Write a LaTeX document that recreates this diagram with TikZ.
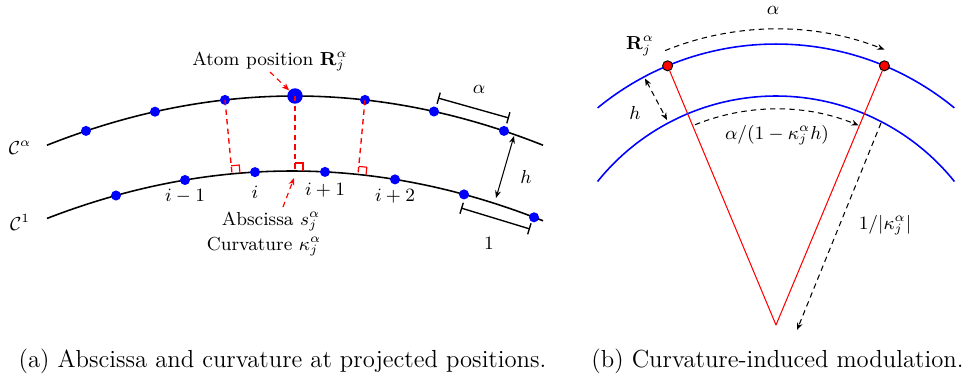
\documentclass[tikz,border=0pt]{standalone}
\usepackage{amsmath}
\usetikzlibrary{arrows.meta}
\begin{document}
\begin{tikzpicture}[x=0.478pt,y=-0.478pt,
  curve/.style={line width=0.75pt},
  bluecurve/.style={blue,line width=0.75pt},
  bdot/.style={circle,fill=blue,inner sep=0pt,minimum size=4.8pt},
  bigdot/.style={circle,fill=blue,inner sep=0pt,minimum size=7.4pt},
  rdot/.style={circle,fill=red,draw=black,line width=0.45pt,inner sep=0pt,minimum size=4.8pt},
  mydash/.style={dash pattern=on 2.6pt off 2pt},
  proj/.style={red,mydash,line width=0.65pt},
  rmark/.style={red,line width=0.55pt},
  redarrow/.style={red,mydash,line width=0.55pt,-{Stealth[length=3.5pt,width=2.8pt]}},
  darrow/.style={black,mydash,line width=0.5pt,-{Stealth[length=3.5pt,width=2.8pt]}},
  ddarrow/.style={black,mydash,line width=0.5pt,{Stealth[length=3.5pt,width=2.8pt]}-{Stealth[length=3.5pt,width=2.8pt]}},
  harrow/.style={black,line width=0.5pt,{Stealth[length=3.5pt,width=2.8pt]}-{Stealth[length=3.5pt,width=2.8pt]}},
  bracket/.style={black,line width=0.65pt,{Bar[width=5.5pt]}-{Bar[width=5.5pt]}},
  redline/.style={red,line width=0.5pt},
  lbl/.style={inner sep=0pt,font=\small},
  captext/.style={inner sep=0pt,anchor=base,font=\fontsize{11.8}{14}\selectfont}
]
\useasboundingbox (0,0) rectangle (964,381);

% ---------------- (a) ----------------
\draw[curve] plot[domain=47:543,samples=80,smooth] (\x,{96+8*((\x-295)/100)^2});
\draw[curve] plot[domain=47:543,samples=80,smooth] (\x,{171+7.9*((\x-292)/100)^2});

\coordinate (f1) at (232,173.8);
\coordinate (f2) at (295,171.0);
\coordinate (f3) at (358,174.4);

\node[bdot] (t1) at (86,130.9) {};
\node[bdot] (t2) at (155,111.7) {};
\node[bdot] (t3) at (225,99.9) {};
\node[bigdot] (t4) at (295,96) {};
\node[bdot] (t5) at (365,99.9) {};
\node[bdot] (t6) at (434,111.5) {};
\node[bdot] (t7) at (504,130.9) {};

\draw[proj] (t3.center) -- (f1);
\draw[proj] (t4.center) -- (f2);
\draw[proj] (t5.center) -- (f3);
\draw[rmark] (240,173.0) -- (239.2,165.0) -- (231.2,165.8);
\draw[rmark] (303,171.0) -- (303,163.0) -- (295,163.0);
\draw[rmark] (366,175.2) -- (366.8,167.2) -- (358.8,166.4);

\node[bdot] (b1) at (116,195.5) {};
\node[bdot] (b2) at (185,180.0) {};
\node[bdot] (b3) at (255,172.1) {};
\node[bdot] (b4) at (325,171.9) {};
\node[bdot] (b5) at (395,179.4) {};
\node[bdot] (b6) at (464,194.4) {};
\node[bdot] (b7) at (534,217.3) {};

\node[lbl,anchor=base] (li1) at (185,201.5) {$i-1$};
\node[lbl,anchor=base] (li2) at (255,198) {$i$};
\node[lbl,anchor=base] (li3) at (325,195) {$i+1$};
\node[lbl,anchor=base] (li4) at (395,201.5) {$i+2$};

\node[lbl] (ca) at (20,148) {$\mathcal{C}^\alpha$};
\node[lbl] (c1) at (20,222) {$\mathcal{C}^1$};

\node[lbl,anchor=base] (atom) at (270,65) {Atom position $\mathbf{R}_j^\alpha$};
\coordinate (atomarr) at (270,72);
\draw[redarrow] (atomarr) -- (t4);

\node[lbl,anchor=base] (absc) at (271,225) {Abscissa $s_j^\alpha$};
\node[lbl,anchor=base] (curv) at (264,250) {Curvature $\kappa_j^\alpha$};
\coordinate (abarr) at (283,207);
\coordinate (abtip) at (294,178);
\draw[redarrow] (abarr) -- (abtip);

\coordinate (al1) at (438,98);
\coordinate (al2) at (509,118);
\draw[bracket] (al1) -- (al2);
\node[lbl] (alab) at (479,89) {$\alpha$};

\coordinate (on1) at (461,208);
\coordinate (on2) at (530,229);
\draw[bracket] (on1) -- (on2);
\node[lbl] (onelab) at (489,243) {$1$};

\coordinate (h1) at (514,136);
\coordinate (h2) at (496,198);
\draw[harrow] (h1) -- (h2);
\node[lbl] (hlab) at (526,177) {$h$};

\node[captext] (capa) at (282.5,367) {(a) Abscissa and curvature at projected positions.};

% ---------------- (b) ----------------
\coordinate (C) at (776,325);
\draw[bluecurve] (C) ++(-129.4:281) arc[start angle=-129.4,end angle=-50.6,radius=281];
\draw[bluecurve] (C) ++(-141.2:229) arc[start angle=-141.2,end angle=-38.8,radius=229];

\node[rdot] (r1) at (667.6,65.8) {};
\node[rdot] (r2) at (884.4,65.8) {};
\draw[redline] (C) -- (r1);
\draw[redline] (C) -- (r2);

\draw[darrow] (C) ++(-112:296) arc[start angle=-112,end angle=-68.5,radius=296];
\draw[darrow] (C) ++(-112:216) arc[start angle=-112,end angle=-67.5,radius=216];

\coordinate (hb1) at (645,78.5);
\coordinate (hb2) at (667,120);
\draw[ddarrow] (hb1) -- (hb2);

\coordinate (k1) at (881,123);
\coordinate (k2) at (797,330);
\draw[darrow] (k1) -- (k2);

\node[lbl] (rlab) at (640,46) {$\mathbf{R}_j^\alpha$};
\node[lbl] (alb) at (773,10) {$\alpha$};
\node[lbl] (hlb) at (635,113) {$h$};
\node[lbl] (amod) at (777,135) {$\alpha/(1-\kappa_j^\alpha h)$};
\node[lbl] (klab) at (885,225) {$1/|\kappa_j^\alpha|$};

\node[captext] (capb) at (777.5,367) {(b) Curvature-induced modulation.};
\end{tikzpicture}
\end{document}
